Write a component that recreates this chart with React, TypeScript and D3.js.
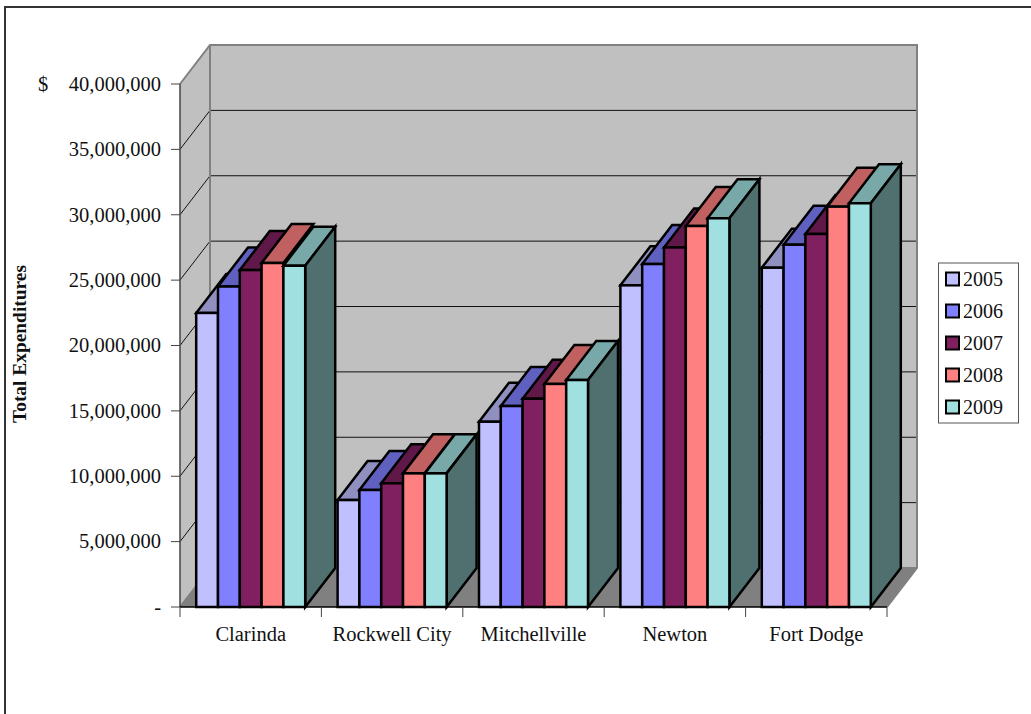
import React from "react";
import * as d3 from "d3";

const categories = ["Clarinda", "Rockwell City", "Mitchellville", "Newton", "Fort Dodge"];
const years = ["2005", "2006", "2007", "2008", "2009"];
const values2005 = [22490000, 8180000, 14170000, 24600000, 25950000];
const values2006 = [24510000, 8950000, 15370000, 26230000, 27710000];
const values2007 = [25770000, 9460000, 15930000, 27500000, 28530000];
const values2008 = [26310000, 10220000, 17060000, 29140000, 30620000];
const values2009 = [26100000, 10220000, 17360000, 29730000, 30880000];
const seriesValues = [values2005, values2006, values2007, values2008, values2009];
const tickValues = [0, 5000000, 10000000, 15000000, 20000000, 25000000, 30000000, 35000000, 40000000];

const frontColors = ["#c0c0ff", "#8080ff", "#802060", "#ff8080", "#a0e0e0"];
const topColors = ["#9090c0", "#6060c0", "#601848", "#c06060", "#78a8a8"];
const sideColors = ["#606080", "#404080", "#401030", "#804040", "#507070"];

const WIDTH = 1031;
const HEIGHT = 714;
const LEFT = 180;
const RIGHT = 887;
const BASE = 607;
const TOP = 84;
const DX = 30;
const DY = -39;
const BAR_W = 21.8;
const BAR_INSET = 16.2;
const FONT = "'Liberation Serif', 'Times New Roman', serif";

const y = d3.scaleLinear().domain([0, 40000000]).range([BASE, TOP]);
const xBand = d3.scaleBand<string>().domain(categories).range([LEFT, RIGHT]);
const xBar = d3.scaleBand<string>().domain(years).range([0, BAR_W * years.length]);

const poly = (pts: [number, number][]) => d3.line()(pts) + "Z";
const tickLabel = (v: number) => (v === 0 ? "-" : d3.format(",")(v));

function Bar({ x, top, s }: { x: number; top: number; s: number }) {
  const r = x + BAR_W;
  return (
    <g stroke="#000" strokeWidth={2.5} strokeLinejoin="miter">
      <path
        d={poly([[x, top], [x + DX, top + DY], [r + DX, top + DY], [r, top]])}
        fill={topColors[s]}
      />
      {s === years.length - 1 && (
        <path
          d={poly([[r, top], [r + DX, top + DY], [r + DX, BASE + DY], [r, BASE]])}
          fill={sideColors[s]}
        />
      )}
      <rect x={x} y={top} width={BAR_W} height={BASE - top} fill={frontColors[s]} />
    </g>
  );
}

export default function App() {
  const textStyle = { fontFamily: FONT, fontSize: 20.5, fill: "#111" };
  return (
    <svg
      width={WIDTH}
      height={HEIGHT}
      viewBox={`0 0 ${WIDTH} ${HEIGHT}`}
      style={{ position: "absolute", left: 0, top: 0, background: "#fff" }}
    >
      {/* chart frame, open on the right and at the bottom */}
      <path d={`M5 ${HEIGHT}V7H${WIDTH}`} fill="none" stroke="#333" strokeWidth={2} />

      {/* walls and floor */}
      <path
        d={poly([[LEFT, BASE], [LEFT + DX, BASE + DY], [LEFT + DX, TOP + DY], [LEFT, TOP]])}
        fill="#c0c0c0"
      />
      <rect
        x={LEFT + DX}
        y={TOP + DY}
        width={RIGHT - LEFT}
        height={BASE - TOP}
        fill="#c0c0c0"
      />
      <path
        d={poly([[LEFT, BASE], [RIGHT, BASE], [RIGHT + DX, BASE + DY], [LEFT + DX, BASE + DY]])}
        fill="#808080"
      />

      {/* gridlines */}
      {tickValues.slice(1, -1).map((v) => (
        <path
          key={v}
          d={`M${LEFT} ${y(v)}L${LEFT + DX} ${y(v) + DY}H${RIGHT + DX}`}
          fill="none"
          stroke="#111"
          strokeWidth={1}
        />
      ))}

      {/* wall outlines */}
      <path
        d={`M${LEFT} ${TOP}L${LEFT + DX} ${TOP + DY}H${RIGHT + DX}V${BASE + DY}L${RIGHT} ${BASE}`}
        fill="none"
        stroke="#808080"
        strokeWidth={2}
      />
      <path
        d={`M${LEFT + DX} ${TOP + DY}V${BASE + DY}L${LEFT} ${BASE}M${LEFT + DX} ${BASE + DY}H${RIGHT + DX}`}
        fill="none"
        stroke="#808080"
        strokeWidth={2}
      />

      {/* bars, painted left to right so nearer columns overlap */}
      {categories.map((c, ci) => (
        <g key={c}>
          {years.map((yr, s) => (
            <Bar
              key={yr}
              x={(xBand(c) as number) + BAR_INSET + (xBar(yr) as number)}
              top={y(seriesValues[s][ci])}
              s={s}
            />
          ))}
        </g>
      ))}

      {/* value axis */}
      <line x1={LEFT} x2={LEFT} y1={TOP} y2={BASE} stroke="#444" strokeWidth={1.5} />
      {tickValues.map((v) => (
        <g key={v}>
          <line x1={LEFT - 9} x2={LEFT} y1={y(v)} y2={y(v)} stroke="#444" strokeWidth={1} />
          <text x={161} y={y(v)} dy="0.33em" textAnchor="end" style={textStyle}>
            {tickLabel(v)}
          </text>
        </g>
      ))}
      <text x={38} y={y(40000000)} dy="0.33em" style={textStyle}>
        $
      </text>

      {/* category axis */}
      <line x1={LEFT} x2={RIGHT} y1={BASE} y2={BASE} stroke="#000" strokeWidth={1.5} />
      {[...categories.map((c) => xBand(c) as number), RIGHT].map((x) => (
        <line key={x} x1={x} x2={x} y1={BASE} y2={BASE + 10} stroke="#444" strokeWidth={1} />
      ))}
      {categories.map((c) => (
        <text
          key={c}
          x={(xBand(c) as number) + xBand.bandwidth() / 2}
          y={641}
          textAnchor="middle"
          style={textStyle}
        >
          {c}
        </text>
      ))}

      {/* axis title */}
      <text
        transform="translate(26,344) rotate(-90)"
        textAnchor="middle"
        style={{ fontFamily: FONT, fontSize: 19.4, fontWeight: 700, fill: "#111" }}
      >
        Total Expenditures
      </text>

      {/* legend */}
      <rect x={938.5} y={263} width={80} height={160} fill="#fff" stroke="#555" strokeWidth={1} />
      {years.map((yr, i) => (
        <g key={yr}>
          <rect
            x={946}
            y={272.5 + i * 32}
            width={13}
            height={13}
            fill={frontColors[i]}
            stroke="#000"
            strokeWidth={2}
          />
          <text x={963} y={285.5 + i * 32} style={{ ...textStyle, fontSize: 20 }}>
            {yr}
          </text>
        </g>
      ))}
    </svg>
  );
}
